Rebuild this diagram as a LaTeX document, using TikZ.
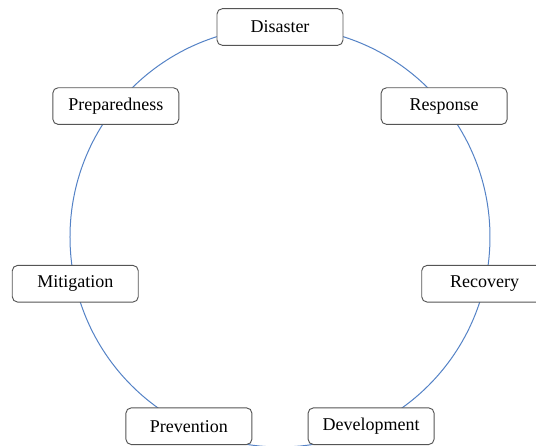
\documentclass[tikz,border=0pt]{standalone}
\usepackage{fontspec}
\setmainfont{Liberation Serif}
\definecolor{ringblue}{HTML}{5482C6}
\definecolor{boxgray}{HTML}{555555}
\tikzset{
    phase/.style={rectangle, rounded corners=4pt, draw=boxgray, line width=0.7pt, fill=white,
        minimum width=94.5pt, minimum height=27.5pt, inner sep=1pt,
        font=\fontsize{13.5}{16}\selectfont}
}
\begin{document}
\begin{tikzpicture}[x=0.75pt, y=0.75pt]
                \useasboundingbox (-280,-209) rectangle (256,237);
                \coordinate (C) at (0,0);
                \draw[ringblue, line width=0.75pt] (C) circle (210);
                
                \node [phase] (DI) at (90:210) {Disaster};
                \node [phase] (RE) at (38.57:210) {Response};
                \node [phase] (RC) at (-12.86:210) {Recovery};
                \node [phase] (DE) at (-64.29:210) {Development};
                \node [phase] (PV) at (-115.71:210) {Prevention};
                \node [phase] (MI) at (-167.14:210) {Mitigation};
                \node [phase] (PR) at (141.43:210) {Preparedness};
            \end{tikzpicture}
\end{document}
